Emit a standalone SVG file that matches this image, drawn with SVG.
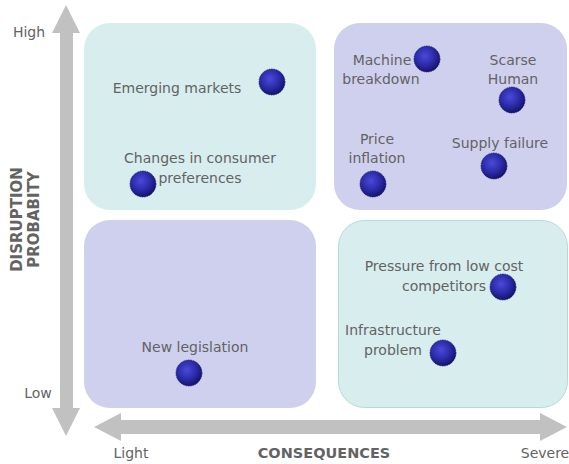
<svg xmlns="http://www.w3.org/2000/svg" width="569" height="464" viewBox="0 0 569 464">
  <defs>
    <radialGradient id="ball" cx="0.42" cy="0.38" r="0.62">
      <stop offset="0" stop-color="#4a4ad8"/>
      <stop offset="0.6" stop-color="#2a2aa8"/>
      <stop offset="1" stop-color="#14146a"/>
    </radialGradient>
    <style>
      .txt { font-family: "DejaVu Sans", Verdana, sans-serif; font-size: 14px; fill: #636363; text-anchor: middle; }
      .axis { font-family: "DejaVu Sans", Verdana, sans-serif; font-weight: bold; fill: #636363; text-anchor: middle; }
      .cyan { fill: #d8edee; }
      .lav { fill: #cfd0ee; }
      .arrow { fill: #c1c1c1; }
      .dot { fill: url(#ball); stroke: #22226a; stroke-width: 0.8; stroke-dasharray: 1.5 1; }
    </style>
  </defs>

  <!-- axes -->
  <g id="axes">
    <path class="arrow" d="M66,5 L80,33 L73,33 L73,408 L80,408 L66,436 L52,408 L60,408 L60,33 L52,33 Z"/>
    <path class="arrow" d="M94,427 L121,413 L121,420 L540,420 L540,413 L567,427 L540,441 L540,434 L121,434 L121,441 Z"/>
    <text class="txt" x="29" y="37">High</text>
    <text class="txt" x="38" y="398">Low</text>
    <text class="txt" x="131" y="458">Light</text>
    <text class="txt" x="545" y="458">Severe</text>
    <text class="axis" x="324" y="458" font-size="14.5">CONSEQUENCES</text>
    <text class="axis" font-size="15" transform="translate(22,219.5) rotate(-90)">DISRUPTION</text>
    <text class="axis" font-size="15" transform="translate(39,219.5) rotate(-90)">PROBABITY</text>
  </g>

  <!-- quadrants -->
  <g id="q-top-left">
    <rect class="cyan" x="84" y="23" width="232" height="187" rx="26"/>
  </g>
  <g id="q-top-right">
    <rect class="lav" x="334" y="23" width="233" height="187" rx="26"/>
  </g>
  <g id="q-bottom-left">
    <rect class="lav" x="84" y="220" width="232" height="188" rx="26"/>
  </g>
  <g id="q-bottom-right">
    <rect class="cyan" x="338.5" y="220.5" width="229" height="187" rx="26" stroke="#b2dcdc" stroke-width="1"/>
  </g>

  <!-- risks -->
  <g id="emerging-markets">
    <text class="txt" x="177" y="93">Emerging markets</text>
    <circle class="dot" cx="272" cy="82" r="13"/>
  </g>
  <g id="consumer-preferences">
    <text class="txt" x="200" y="163">Changes in consumer</text>
    <text class="txt" x="200" y="183">preferences</text>
    <circle class="dot" cx="143" cy="184" r="13"/>
  </g>
  <g id="machine-breakdown">
    <text class="txt" x="382" y="65">Machine</text>
    <text class="txt" x="381" y="84">breakdown</text>
    <circle class="dot" cx="427" cy="59" r="13"/>
  </g>
  <g id="scarse-human">
    <text class="txt" x="513" y="65">Scarse</text>
    <text class="txt" x="513" y="84">Human</text>
    <circle class="dot" cx="512" cy="100" r="13"/>
  </g>
  <g id="price-inflation">
    <text class="txt" x="377" y="144">Price</text>
    <text class="txt" x="377" y="163">inflation</text>
    <circle class="dot" cx="373" cy="184" r="13"/>
  </g>
  <g id="supply-failure">
    <text class="txt" x="500" y="148">Supply failure</text>
    <circle class="dot" cx="494" cy="166" r="13"/>
  </g>
  <g id="new-legislation">
    <text class="txt" x="195" y="352">New legislation</text>
    <circle class="dot" cx="189" cy="373" r="13"/>
  </g>
  <g id="low-cost-competitors">
    <text class="txt" x="444" y="271">Pressure from low cost</text>
    <text class="txt" x="444" y="291">competitors</text>
    <circle class="dot" cx="503" cy="287" r="13"/>
  </g>
  <g id="infrastructure-problem">
    <text class="txt" x="393" y="335">Infrastructure</text>
    <text class="txt" x="393" y="355">problem</text>
    <circle class="dot" cx="443" cy="353" r="13"/>
  </g>
</svg>
